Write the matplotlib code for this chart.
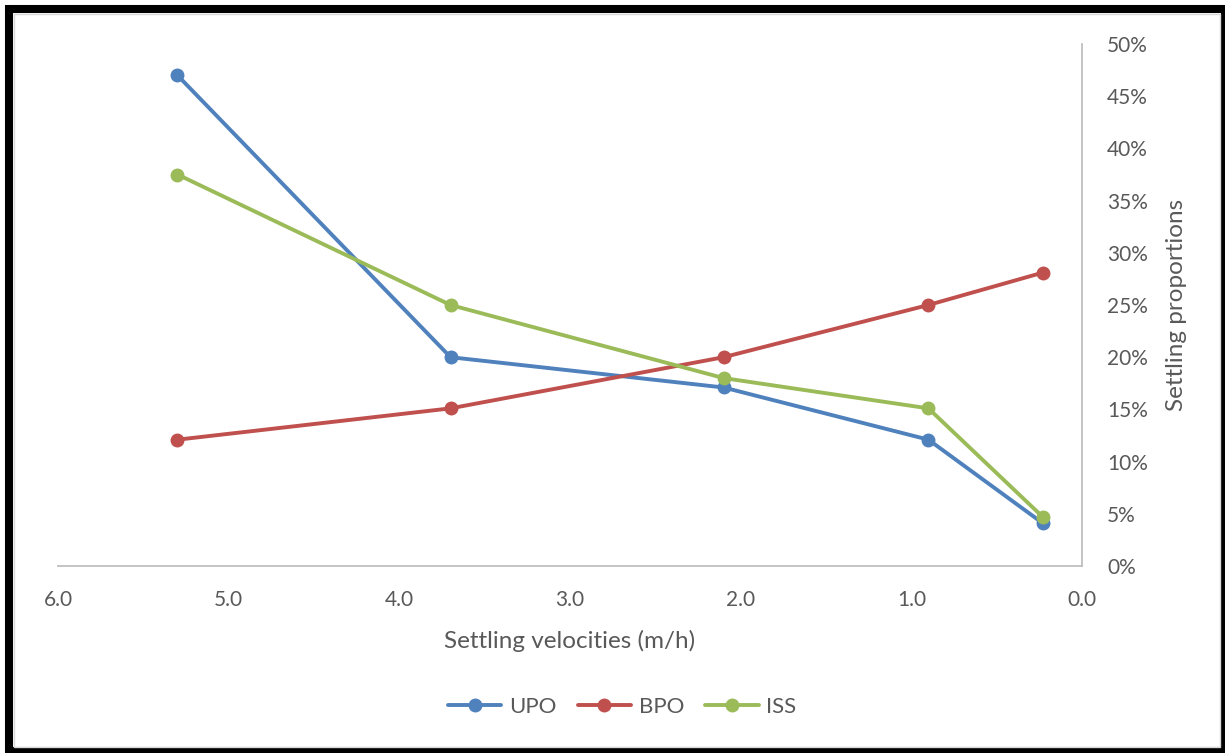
import matplotlib
matplotlib.use("Agg")
import matplotlib.pyplot as plt
from matplotlib.patches import Rectangle
from matplotlib.ticker import FuncFormatter

# settling velocity classes (m/h) and proportions (%)
velocities = [5.3, 3.7, 2.1, 0.9, 0.23]
upo = [47.0, 20.0, 17.1, 12.1, 4.1]
bpo = [12.1, 15.1, 20.0, 25.0, 28.1]
iss = [37.5, 25.0, 18.0, 15.1, 4.7]

series_names = ["UPO", "BPO", "ISS"]
colors = ["#4f81bd", "#c0504d", "#9bbb59"]

plt.rcParams["font.family"] = ["Lato", "DejaVu Sans"]
text_color = "#595959"

fig = plt.figure(figsize=(12.25, 7.53), dpi=100)
ax = fig.add_axes([58 / 1225, 1 - 566 / 753, 1024 / 1225, 522 / 753])

for vals, name, col in zip([upo, bpo, iss], series_names, colors):
    ax.plot(velocities, vals, color=col, lw=2.8, marker="o", ms=9,
            label=name, solid_capstyle="round", zorder=3)

ax.set_xlim(6.0, 0.0)
ax.set_ylim(0, 50)
ax.set_xticks([6, 5, 4, 3, 2, 1, 0])
ax.xaxis.set_major_formatter(FuncFormatter(lambda v, p: f"{v:.1f}"))
ax.set_yticks(range(0, 51, 5))
ax.yaxis.set_major_formatter(FuncFormatter(lambda v, p: f"{v:.0f}%"))
ax.yaxis.tick_right()

for side in ["top", "left"]:
    ax.spines[side].set_visible(False)
for side in ["bottom", "right"]:
    ax.spines[side].set_color("#bfbfbf")
    ax.spines[side].set_linewidth(1.3)

ax.tick_params(axis="x", length=0, pad=17, labelsize=15, labelcolor=text_color)
ax.tick_params(axis="y", length=0, pad=18, labelsize=15, labelcolor=text_color)

ax.set_xlabel("Settling velocities (m/h)", fontsize=17.5, color=text_color)
ax.xaxis.set_label_coords(0.5, -0.122)
ax.set_ylabel("Settling proportions", fontsize=17.5, color=text_color)
ax.yaxis.set_label_position("right")
ax.yaxis.set_label_coords(1.082, 0.5)

leg = fig.legend(loc="center", bbox_to_anchor=(0.508, 0.061), ncol=3,
                 frameon=False, fontsize=16, handlelength=2.4,
                 columnspacing=0.95, handletextpad=0.35)
for t in leg.get_texts():
    t.set_color(text_color)

# outer frame
px = lambda x, y: (x / 1225, y / 753)
fig.patches.append(Rectangle(px(9, 2), 1216 / 1225, 742 / 753, fill=False,
                             edgecolor="black", linewidth=5.8,
                             transform=fig.transFigure, figure=fig))
fig.patches.append(Rectangle(px(13.5, 6.5), 1206 / 1225, 733 / 753, fill=False,
                             edgecolor="#d9d9d9", linewidth=1.0,
                             transform=fig.transFigure, figure=fig))

fig.savefig("out.png", dpi=100)
